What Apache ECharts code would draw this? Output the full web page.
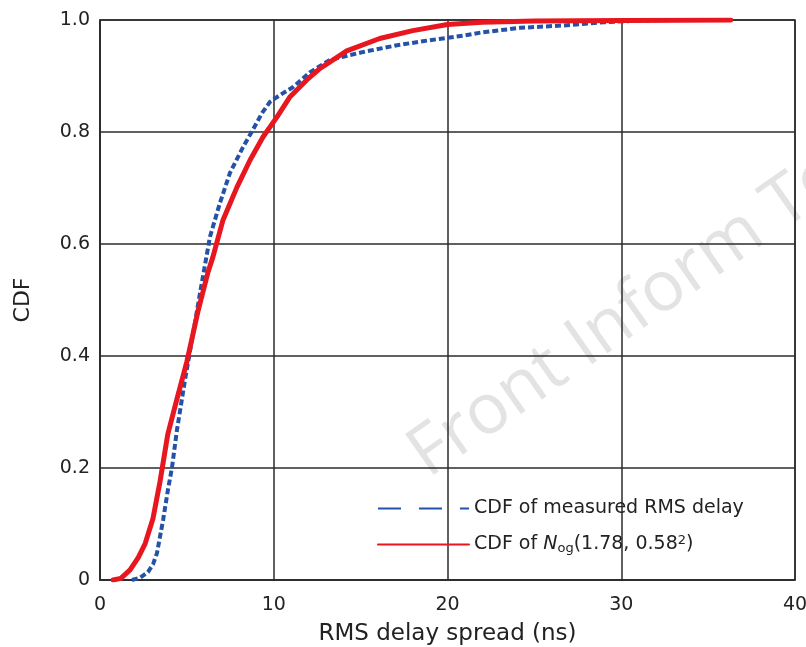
<!DOCTYPE html>
<html>
<head>
<meta charset="utf-8">
<title>CDF of RMS delay spread</title>
<script src="https://cdn.jsdelivr.net/npm/echarts@6/dist/echarts.min.js"></script>
<style>
  html, body { margin: 0; padding: 0; background: #fff; }
  #chart { width: 806px; height: 647px; }
</style>
</head>
<body>
<div id="chart"></div>
<script>
// [RMS delay spread (ns), CDF]
const measuredCdf = [
  [1.84, 0], [2.3, 0.004], [2.76, 0.014], [3.05, 0.028], [3.28, 0.048],
  [3.63, 0.107], [3.91, 0.161], [4.14, 0.2], [4.43, 0.268], [4.89, 0.357],
  [5.3, 0.43], [5.8, 0.52], [6.33, 0.613], [6.9, 0.673], [7.48, 0.727],
  [8.23, 0.773], [8.8, 0.804], [9.33, 0.834], [9.79, 0.854], [10.36, 0.866],
  [11.1, 0.88], [12.1, 0.907], [13.24, 0.929], [15.16, 0.943], [17.1, 0.955],
  [19.0, 0.964], [20.9, 0.972], [22, 0.978], [24.2, 0.986], [27.1, 0.991],
  [29, 0.996], [31, 0.999], [33, 1.0]
];
const fittedCdf = [
  [0.75, 0], [1.2, 0.003], [1.73, 0.018], [2.2, 0.04], [2.6, 0.065],
  [3.05, 0.11], [3.45, 0.175], [3.9, 0.26], [4.4, 0.32], [5.0, 0.39],
  [5.64, 0.48], [6.22, 0.55], [6.5, 0.577], [7.08, 0.643], [7.89, 0.702],
  [8.64, 0.75], [9.38, 0.791], [10.19, 0.827], [10.94, 0.863], [11.9, 0.893],
  [12.6, 0.912], [14.2, 0.945], [16.1, 0.967], [18.0, 0.981], [20.0, 0.992],
  [22, 0.996], [25, 0.998], [30, 0.999], [36.3, 1.0]
];
const xTicks = [0, 10, 20, 30, 40];
const yTicks = [0, 0.2, 0.4, 0.6, 0.8, 1.0];
const seriesNames = ['CDF of measured RMS delay', 'CDF of Nog(1.78, 0.58^2)'];

const chart = echarts.init(document.getElementById('chart'), null, { renderer: 'canvas' });

const font = '"DejaVu Sans", Verdana, sans-serif';
const textColor = '#222';
const gridColor = '#2b2b2b';

chart.setOption({
  backgroundColor: '#fff',
  animation: false,
  grid: {
    left: 100, right: 11, top: 20, bottom: 67,
    outerBoundsMode: 'none',
    show: true, borderColor: gridColor, borderWidth: 1.5
  },
  graphic: [{
    type: 'text',
    z: -10,
    x: 437, y: 491,
    rotation: 35 * Math.PI / 180,
    style: {
      text: 'Front Inform Te',
      font: '70px "Open Sans", "Noto Sans", sans-serif',
      fill: '#e3e3e3',
      textAlign: 'left',
      textVerticalAlign: 'bottom'
    }
  }],
  legend: {
    orient: 'vertical',
    left: 377, top: 499,
    padding: 0,
    itemWidth: 91, itemHeight: 14, itemGap: 16,
    itemStyle: { opacity: 0 },
    textStyle: {
      fontFamily: font, fontSize: 19, color: textColor,
      rich: {
        t: { fontFamily: font, fontSize: 19, color: textColor },
        i: { fontFamily: font, fontSize: 19, color: textColor, fontStyle: 'italic' },
        sub: { fontFamily: font, fontSize: 13, color: textColor, verticalAlign: 'bottom', padding: [8, 0, 0, 0] },
        sup: { fontFamily: font, fontSize: 13, color: textColor, verticalAlign: 'top', padding: [0, 0, 7, 0] }
      }
    },
    formatter: function (name) {
      if (name === seriesNames[1]) {
        return '{t|CDF of }{i|N}{sub|og}{t|(1.78, 0.58}{sup|2}{t|)}';
      }
      return name;
    },
    data: [
      { name: seriesNames[0], lineStyle: { width: 2, type: [23, 18] } },
      { name: seriesNames[1], lineStyle: { width: 2 } }
    ]
  },
  xAxis: {
    type: 'value',
    min: xTicks[0], max: xTicks[xTicks.length - 1], interval: 10,
    name: 'RMS delay spread (ns)',
    nameLocation: 'middle', nameGap: 43,
    nameTextStyle: { fontFamily: font, fontSize: 23, color: textColor },
    axisLine: { lineStyle: { color: gridColor, width: 1.5 } },
    axisTick: { show: false },
    axisLabel: { fontFamily: font, fontSize: 19, color: textColor, margin: 16 },
    splitLine: { show: true, lineStyle: { color: gridColor, width: 1.5 } }
  },
  yAxis: {
    type: 'value',
    min: yTicks[0], max: yTicks[yTicks.length - 1], interval: 0.2,
    name: 'CDF',
    nameLocation: 'middle', nameGap: 66,
    nameTextStyle: { fontFamily: font, fontSize: 22, color: textColor },
    axisLine: { lineStyle: { color: gridColor, width: 1.5 } },
    axisTick: { show: false },
    axisLabel: {
      fontFamily: font, fontSize: 19, color: textColor, margin: 10,
      formatter: v => (v === 0 ? '0' : v.toFixed(1))
    },
    splitLine: { show: true, lineStyle: { color: gridColor, width: 1.5 } }
  },
  series: [
    {
      name: seriesNames[0],
      type: 'line',
      data: measuredCdf,
      symbol: 'none',
      smooth: false,
      z: 3,
      lineStyle: { color: '#2352a8', width: 4, type: [6, 3], join: 'round' },
      itemStyle: { color: '#2352a8' }
    },
    {
      name: seriesNames[1],
      type: 'line',
      data: fittedCdf,
      symbol: 'none',
      smooth: false,
      z: 4,
      lineStyle: { color: '#e8161e', width: 5, join: 'round', cap: 'round' },
      itemStyle: { color: '#e8161e' }
    }
  ]
});
</script>
</body>
</html>
